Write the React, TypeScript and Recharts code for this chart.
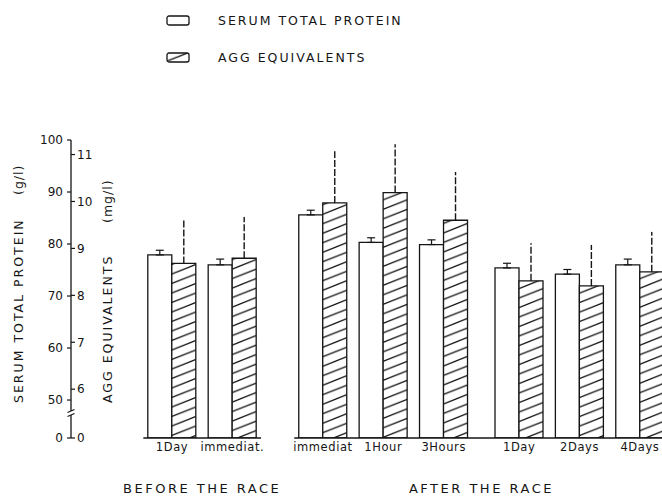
import { Bar, BarChart, ErrorBar, Legend, ReferenceLine, XAxis, YAxis } from "recharts";

const FONT = "'DejaVu Sans', sans-serif";
const INK = "#151515";

// sampling times, grouped into the two phases of the race
const timepoints = ["1Day", "immediat.", "immediat", "1Hour", "3Hours", "1Day", "2Days", "4Days"];
const phases = [
  "BEFORE THE RACE",
  "BEFORE THE RACE",
  "AFTER THE RACE",
  "AFTER THE RACE",
  "AFTER THE RACE",
  "AFTER THE RACE",
  "AFTER THE RACE",
  "AFTER THE RACE",
];
// position of each sampling time along the (uneven) time axis
const slotIndex = [0, 4, 10, 14, 18, 23, 27, 31];

// serum total protein, g/l (mean and upper SEM)
const serumProtein = [77.9, 76.0, 85.6, 80.3, 79.9, 75.4, 74.2, 76.0];
const serumProteinSem = [0.9, 1.1, 0.9, 0.9, 0.9, 0.9, 0.9, 1.1];

// AGG equivalents, mg/l (mean and upper SEM)
const aggEquivalents = [8.68, 8.79, 9.97, 10.19, 9.6, 8.31, 8.2, 8.5];
const aggEquivalentsSem = [0.92, 0.88, 1.1, 1.03, 1.03, 0.8, 0.87, 0.85];

const proteinTicks = [50, 60, 70, 80, 90, 100];
const aggTicks = [6, 7, 8, 9, 10, 11];

const seriesOrder = ["protein", "agg"];

// both value axes are broken: the zero sits just below the first real tick
const PROTEIN_FLOOR = 42.7;
const AGG_FLOOR = 4.96;
const PROTEIN_TOP = 100;
const AGG_TOP = 11.31;
const X_DOMAIN: [number, number] = [-6.69, 32.46];

const rows = timepoints.map((label, i) => ({
  slot: slotIndex[i],
  label,
  phase: phases[i],
  protein: serumProtein[i],
  proteinErr: [0, serumProteinSem[i]],
  agg: aggEquivalents[i],
  aggErr: [0, aggEquivalentsSem[i]],
}));

const phaseNames = [...new Set(phases)];
const phaseSpans = phaseNames.map((name) => {
  const slots = rows.filter((r) => r.phase === name).map((r) => r.slot);
  const first = Math.min(...slots);
  const last = Math.max(...slots);
  return { name, first, last, center: (first + last) / 2 };
});

type AxisTitleProps = {
  title: string;
  unit: string;
  atX: number;
  fromY: number;
  unitY: number;
  viewBox?: { x: number; y: number; width: number; height: number };
  withBreak?: boolean;
};

function AxisTitle({ title, unit, atX, fromY, unitY, viewBox, withBreak }: AxisTitleProps) {
  const style = { fontFamily: FONT, fontSize: 12.5, letterSpacing: 2, fill: INK };
  // little "≈" on the axis line where the scale jumps from 0 to 50
  const lineX = viewBox ? viewBox.x + viewBox.width : 0;
  const breakY = viewBox ? viewBox.y + viewBox.height - 25 : 0;
  return (
    <g>
      <text transform={`translate(${atX},${fromY}) rotate(-90)`} dy="0.36em" style={style}>
        {title}
      </text>
      <text transform={`translate(${atX},${unitY}) rotate(-90)`} dy="0.36em" style={{ ...style, letterSpacing: 1 }}>
        {unit}
      </text>
      {withBreak && viewBox ? (
        <g stroke={INK} strokeWidth={1.2}>
          <rect x={lineX - 2} y={breakY - 2} width={4} height={4} fill="#fff" stroke="none" />
          <line x1={lineX - 3.5} y1={breakY - 0.5} x2={lineX + 3.5} y2={breakY - 3.5} />
          <line x1={lineX - 3.5} y1={breakY + 3.5} x2={lineX + 3.5} y2={breakY + 0.5} />
        </g>
      ) : null}
    </g>
  );
}

function SeriesLegend({ payload }: any) {
  const entries = [...(payload ?? [])].sort(
    (a: any, b: any) => seriesOrder.indexOf(a.dataKey) - seriesOrder.indexOf(b.dataKey),
  );
  return (
    <div style={{ display: "flex", flexDirection: "column", gap: 17, fontFamily: FONT }}>
      {entries.map((entry: any) => (
        <div key={entry.value} style={{ display: "flex", alignItems: "center", height: 20 }}>
          <svg width={24} height={11} style={{ marginRight: 28 }}>
            <rect
              x={1}
              y={1}
              width={22}
              height={9}
              rx={2}
              fill={entry.dataKey === "agg" ? "url(#agg-hatch)" : "#fff"}
              stroke={INK}
              strokeWidth={1.3}
            />
          </svg>
          <span style={{ fontSize: 12.5, letterSpacing: 2, color: INK }}>{entry.value}</span>
        </div>
      ))}
    </div>
  );
}

export default function App() {
  const tickStyle = { fontSize: 12, fill: INK, fontFamily: FONT };
  return (
    <div style={{ position: "absolute", left: 0, top: 0, background: "#fff" }}>
      <BarChart
        width={662}
        height={497}
        data={rows}
        margin={{ top: 140, right: 0, left: 0, bottom: 0 }}
        barGap={0}
        style={{ fontFamily: FONT }}
      >
        <defs>
          <pattern id="agg-hatch" patternUnits="userSpaceOnUse" width={24} height={9.5}>
            <rect width={24} height={9.5} fill="#fff" />
            <line x1={0} y1={9.5} x2={24} y2={0} stroke={INK} strokeWidth={1.3} />
            <line x1={0} y1={19} x2={24} y2={9.5} stroke={INK} strokeWidth={1.3} />
            <line x1={0} y1={0} x2={24} y2={-9.5} stroke={INK} strokeWidth={1.3} />
          </pattern>
        </defs>
        <Legend
          layout="horizontal"
          align="center"
          verticalAlign="middle"
          wrapperStyle={{ top: 10, left: 166, width: 320 }}
          content={<SeriesLegend />}
        />
        <XAxis
          xAxisId="a-time"
          dataKey="slot"
          type="number"
          domain={X_DOMAIN}
          allowDataOverflow
          ticks={slotIndex}
          interval={0}
          tickFormatter={(v) => rows.find((r) => r.slot === v)?.label ?? ""}
          axisLine={false}
          tickLine={false}
          tickSize={0}
          tickMargin={5}
          height={40}
          tick={{ ...tickStyle, fontSize: 11.5, letterSpacing: 0.6 }}
        />
        <XAxis
          xAxisId="b-phase"
          dataKey="slot"
          type="number"
          domain={X_DOMAIN}
          allowDataOverflow
          ticks={phaseSpans.map((p) => p.center)}
          interval={0}
          tickFormatter={(v) => phaseSpans.find((p) => p.center === v)?.name ?? ""}
          axisLine={false}
          tickLine={false}
          tickSize={0}
          tickMargin={6}
          height={19}
          tick={{ ...tickStyle, fontSize: 13, letterSpacing: 2.5 }}
        />
        <YAxis
          yAxisId="agg"
          mirror
          width={1}
          type="number"
          domain={[AGG_FLOOR, AGG_TOP]}
          allowDataOverflow
          ticks={[AGG_FLOOR, ...aggTicks]}
          interval={0}
          tickFormatter={(v) => (v === AGG_FLOOR ? "0" : String(v))}
          axisLine={false}
          tickLine={{ stroke: INK, strokeWidth: 1.2 }}
          tickSize={4}
          tickMargin={2}
          tick={tickStyle}
          label={<AxisTitle title="AGG EQUIVALENTS" unit="(mg/l)" atX={107} fromY={403} unitY={223} />}
        />
        <YAxis
          yAxisId="protein"
          width={71}
          type="number"
          domain={[PROTEIN_FLOOR, PROTEIN_TOP]}
          allowDataOverflow
          ticks={[PROTEIN_FLOOR, ...proteinTicks]}
          interval={0}
          tickFormatter={(v) => (v === PROTEIN_FLOOR ? "0" : String(v))}
          axisLine={{ stroke: INK, strokeWidth: 1.3 }}
          tickLine={{ stroke: INK, strokeWidth: 1.2 }}
          tickSize={4}
          tickMargin={4}
          tick={tickStyle}
          label={
            <AxisTitle title="SERUM TOTAL PROTEIN" unit="(g/l)" atX={18} fromY={403} unitY={195} withBreak />
          }
        />
        {phaseSpans.map((p) => (
          <ReferenceLine
            key={p.name}
            xAxisId="a-time"
            yAxisId="protein"
            segment={[
              { x: p.first - 1.9, y: PROTEIN_FLOOR },
              { x: p.last + 1.9, y: PROTEIN_FLOOR },
            ]}
            stroke={INK}
            strokeWidth={1.4}
            ifOverflow="visible"
          />
        ))}
        <Bar
          xAxisId="a-time"
          yAxisId="protein"
          dataKey="protein"
          name="SERUM TOTAL PROTEIN"
          barSize={24}
          fill="#fff"
          stroke={INK}
          strokeWidth={1.3}
          isAnimationActive={false}
        >
          <ErrorBar dataKey="proteinErr" width={4} stroke={INK} strokeWidth={1.2} isAnimationActive={false} />
        </Bar>
        <Bar
          xAxisId="a-time"
          yAxisId="agg"
          dataKey="agg"
          name="AGG EQUIVALENTS"
          barSize={24}
          fill="url(#agg-hatch)"
          stroke={INK}
          strokeWidth={1.3}
          isAnimationActive={false}
        >
          <ErrorBar
            dataKey="aggErr"
            width={0}
            stroke={INK}
            strokeWidth={1.4}
            strokeDasharray="7 2"
            isAnimationActive={false}
          />
        </Bar>
      </BarChart>
    </div>
  );
}
